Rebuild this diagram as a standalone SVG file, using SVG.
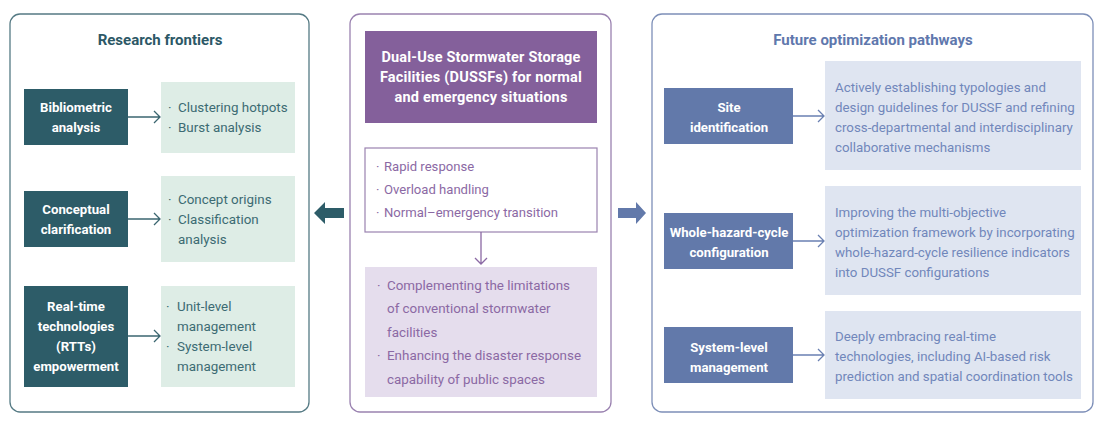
<svg xmlns="http://www.w3.org/2000/svg" width="1102" height="423" viewBox="0 0 1102 423">
<defs>
<style>
text{font-family:Roboto,"Noto Sans","Liberation Sans",sans-serif;}
.ttl{font-size:15px;font-weight:bold;text-anchor:middle;}
.wb{fill:#ffffff;font-size:13.2px;font-weight:bold;text-anchor:middle;}
.hd{fill:#ffffff;font-size:14.5px;font-weight:bold;text-anchor:middle;letter-spacing:0.2px;}
.tg{fill:#3c6b73;font-size:13.4px;}
.pp{fill:#8b69a4;font-size:13.1px;}
.pb{fill:#8b69a4;font-size:13.4px;}
.bl{fill:#7187bb;font-size:13.3px;}
.ctg{fill:none;stroke:#3b6670;stroke-width:1.3;}
.cpp{fill:none;stroke:#8b69a4;stroke-width:1.3;}
.cbl{fill:none;stroke:#6a80b2;stroke-width:1.3;}
</style>
</defs>
<rect width="1102" height="423" fill="#ffffff"/>

<!-- Left panel -->
<g id="panel-research">
<rect x="10" y="14" width="299" height="398" rx="10" fill="none" stroke="#557a84" stroke-width="1.3"/>
<text class="ttl" x="160" y="45" fill="#2c5866">Research frontiers</text>
</g>
<g id="node-bibliometric">
<rect x="24" y="89" width="104" height="56" fill="#2d5c68"/>
<text class="wb" x="76" y="112">Bibliometric</text>
<text class="wb" x="76" y="132">analysis</text>
</g>
<g id="node-bibliometric-items">
<rect x="161" y="82" width="134" height="71" fill="#deede6"/>
<text class="tg" x="168" y="112">·</text><text class="tg" x="178" y="112">Clustering hotpots</text>
<text class="tg" x="168" y="132">·</text><text class="tg" x="178" y="132">Burst analysis</text>
</g>
<g id="node-conceptual">
<rect x="24" y="191" width="104" height="56" fill="#2d5c68"/>
<text class="wb" x="76" y="214">Conceptual</text>
<text class="wb" x="76" y="234">clarification</text>
</g>
<g id="node-conceptual-items">
<rect x="161" y="176" width="134" height="86" fill="#deede6"/>
<text class="tg" x="168" y="204">·</text><text class="tg" x="178" y="204">Concept origins</text>
<text class="tg" x="168" y="224">·</text><text class="tg" x="178" y="224">Classification</text>
<text class="tg" x="178" y="244">analysis</text>
</g>
<g id="node-rtt">
<rect x="24" y="286" width="104" height="101" fill="#2d5c68"/>
<text class="wb" x="76" y="311">Real-time</text>
<text class="wb" x="76" y="331">technologies</text>
<text class="wb" x="76" y="351">(RTTs)</text>
<text class="wb" x="76" y="371">empowerment</text>
</g>
<g id="node-rtt-items">
<rect x="161" y="286" width="134" height="101" fill="#deede6"/>
<text class="tg" x="166" y="311">·</text><text class="tg" x="177" y="311">Unit-level</text>
<text class="tg" x="177" y="331">management</text>
<text class="tg" x="166" y="351">·</text><text class="tg" x="177" y="351">System-level</text>
<text class="tg" x="177" y="371">management</text>
</g>

<!-- Middle panel -->
<g id="panel-dussf">
<rect x="350" y="14" width="261" height="398" rx="10" fill="none" stroke="#9a82b0" stroke-width="1.3"/>
</g>
<g id="node-dussf">
<rect x="365" y="31" width="232" height="92" fill="#84609b"/>
<text class="hd" x="481" y="62">Dual-Use Stormwater Storage</text>
<text class="hd" x="481" y="82">Facilities (DUSSFs) for normal</text>
<text class="hd" x="481" y="102">and emergency situations</text>
</g>
<g id="node-features">
<rect x="365" y="148" width="232" height="84" fill="#ffffff" stroke="#9a82b0" stroke-width="1.2"/>
<text class="pp" x="376" y="171">·</text><text class="pp" x="384" y="171">Rapid response</text>
<text class="pp" x="376" y="194">·</text><text class="pp" x="384" y="194">Overload handling</text>
<text class="pp" x="376" y="217">·</text><text class="pp" x="384" y="217">Normal–emergency transition</text>
</g>
<g id="node-benefits">
<rect x="365" y="267" width="232" height="130" fill="#e5dded"/>
<text class="pb" x="377" y="290">·</text><text class="pb" x="387" y="290">Complementing the limitations</text>
<text class="pb" x="387" y="313">of conventional stormwater</text>
<text class="pb" x="387" y="337">facilities</text>
<text class="pb" x="377" y="360">·</text><text class="pb" x="387" y="360">Enhancing the disaster response</text>
<text class="pb" x="387" y="384">capability of public spaces</text>
</g>

<!-- Right panel -->
<g id="panel-future">
<rect x="652" y="14" width="441" height="398" rx="10" fill="none" stroke="#7d8fb8" stroke-width="1.3"/>
<text class="ttl" x="873" y="45" fill="#5f78ad">Future optimization pathways</text>
</g>
<g id="node-site">
<rect x="664" y="88" width="129" height="56" fill="#6279aa"/>
<text class="wb" x="729" y="112">Site</text>
<text class="wb" x="729" y="132">identification</text>
</g>
<g id="node-site-text">
<rect x="825" y="61" width="256" height="109" fill="#dfe5f1"/>
<text class="bl" x="835" y="92">Actively establishing typologies and</text>
<text class="bl" x="835" y="112">design guidelines for DUSSF and refining</text>
<text class="bl" x="835" y="132">cross-departmental and interdisciplinary</text>
<text class="bl" x="835" y="152">collaborative mechanisms</text>
</g>
<g id="node-whole">
<rect x="664" y="213" width="129" height="56" fill="#6279aa"/>
<text class="wb" x="729" y="237">Whole-hazard-cycle</text>
<text class="wb" x="729" y="257">configuration</text>
</g>
<g id="node-whole-text">
<rect x="825" y="186" width="256" height="109" fill="#dfe5f1"/>
<text class="bl" x="835" y="217">Improving the multi-objective</text>
<text class="bl" x="835" y="237">optimization framework by incorporating</text>
<text class="bl" x="835" y="257">whole-hazard-cycle resilience indicators</text>
<text class="bl" x="835" y="277">into DUSSF configurations</text>
</g>
<g id="node-system">
<rect x="664" y="327" width="129" height="56" fill="#6279aa"/>
<text class="wb" x="729" y="352">System-level</text>
<text class="wb" x="729" y="372">management</text>
</g>
<g id="node-system-text">
<rect x="825" y="311" width="256" height="88" fill="#dfe5f1"/>
<text class="bl" x="835" y="341">Deeply embracing real-time</text>
<text class="bl" x="835" y="361">technologies, including AI-based risk</text>
<text class="bl" x="835" y="381">prediction and spatial coordination tools</text>
</g>

<!-- Connectors -->
<g id="connectors">
<path class="ctg" d="M128 117H160M154 111L160 117L154 123"/>
<path class="ctg" d="M128 219H160M154 213L160 219L154 225"/>
<path class="ctg" d="M128 336H160M154 330L160 336L154 342"/>
<path class="cpp" d="M481 232V264M475 258L481 264L487 258"/>
<path class="cbl" d="M793 116H824M818 110L824 116L818 122"/>
<path class="cbl" d="M793 241H824M818 235L824 241L818 247"/>
<path class="cbl" d="M793 355H824M818 349L824 355L818 361"/>
<polygon points="344,208 325,208 325,202 314,213 325,224 325,218 344,218" fill="#2d5c68"/>
<polygon points="618,208 636,208 636,202 646,213 636,224 636,218 618,218" fill="#6279aa"/>
</g>
</svg>
